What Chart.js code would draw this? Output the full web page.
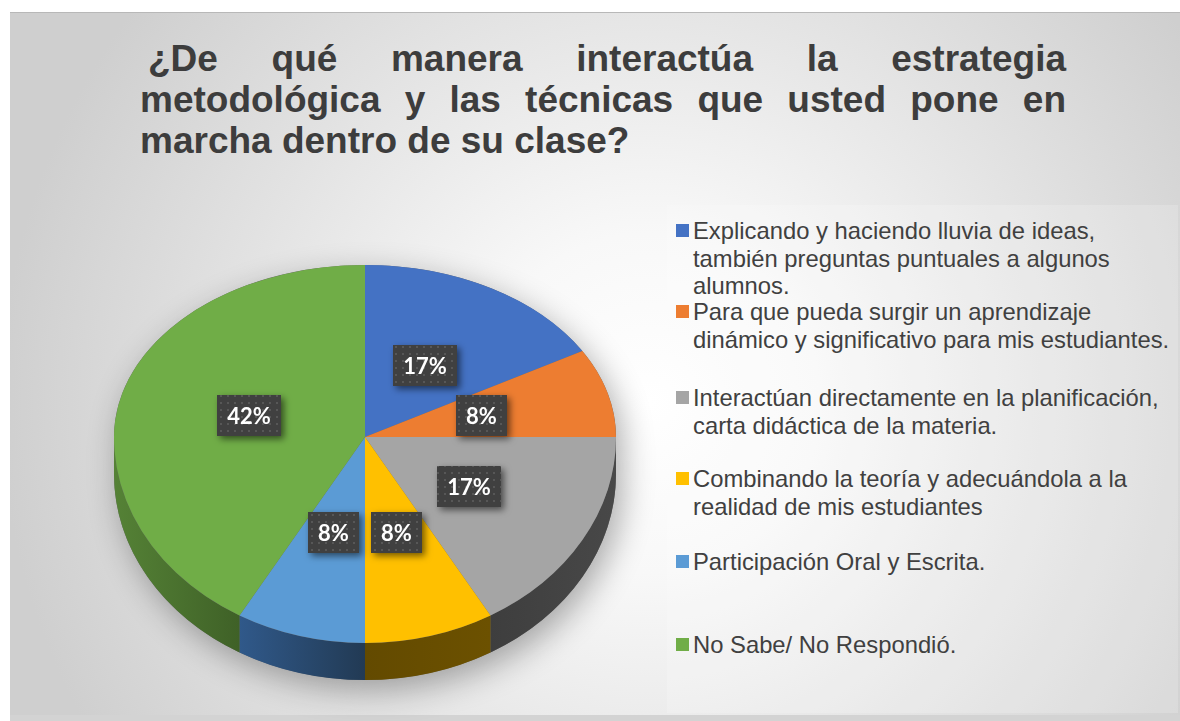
<!DOCTYPE html>
<html><head><meta charset="utf-8">
<script src="https://cdn.jsdelivr.net/npm/chart.js@4.4.0/dist/chart.umd.min.js"></script>
<style>
html,body{margin:0;padding:0;background:#fff;width:1180px;height:721px;overflow:hidden;position:relative;}
#frame{position:absolute;left:10px;top:12px;width:1170px;height:703px;border-top:1px solid #b8b8b8;box-sizing:border-box;
 background:radial-gradient(circle at 640px 390px,#ffffff 0px,#f8f8f8 170px,#cfcfcf 650px);}
#band{position:absolute;left:10px;top:715px;width:1170px;height:6px;background:#d3d3d3;}
#legbox{position:absolute;left:667px;top:205px;width:511px;height:508px;background:rgba(255,255,255,0.18);}
canvas{position:absolute;left:0;top:0;}
.tl{position:absolute;font:bold 37px "Liberation Sans",Arial,sans-serif;color:#3d3d3d;line-height:41px;text-align:justify;text-align-last:justify;}
.li{position:absolute;left:676px;font:23.8px "Liberation Sans",Arial,sans-serif;color:#404040;line-height:27.5px;}
.mk{position:absolute;left:0;width:13px;height:13px;}
.tx{position:absolute;left:17px;white-space:nowrap;}
</style></head>
<body>
<div id="frame"></div>
<div id="band"></div>
<div id="legbox"></div>
<div class="tl" style="left:148px;top:38px;width:918px;">¿De qué manera interactúa la estrategia</div>
<div class="tl" style="left:140px;top:79px;width:926px;">metodológica y las técnicas que usted pone en</div>
<div class="tl" style="left:140px;top:120px;text-align:left;text-align-last:left;white-space:nowrap;">marcha dentro de su clase?</div>
<div id="legend"></div>
<canvas id="c" width="1180" height="721"></canvas>
<script>
// ---- data ----
const categories = [
  ["Explicando y haciendo lluvia de ideas,", "también preguntas puntuales a algunos", "alumnos."],
  ["Para que pueda surgir un aprendizaje", "dinámico y significativo para mis estudiantes."],
  ["Interactúan directamente en la planificación,", "carta didáctica de la materia."],
  ["Combinando la teoría y adecuándola a la", "realidad de mis estudiantes"],
  ["Participación Oral y Escrita."],
  ["No Sabe/ No Respondió."]
];
const values = [2, 1, 2, 1, 1, 5];
const colors = ['#4472C4', '#ED7D31', '#A5A5A5', '#FFC000', '#5B9BD5', '#70AD47'];
const sideColors = [['#2c4c85', '#2c4c85'], ['#9b4d17', '#9b4d17'], ['#484848', '#3e3e3e'],
                    ['#6c5100', '#634a00'], ['#223a54', '#30598a'], ['#3f6127', '#558236']];
const legendBaselines = [239, 320, 406, 487, 570, 653];

// ---- legend (HTML) ----
const BASE = 21.9;
const leg = document.getElementById('legend');
categories.forEach((lines, i) => {
  const d = document.createElement('div');
  d.className = 'li';
  d.style.top = (legendBaselines[i] - BASE) + 'px';
  const mk = document.createElement('div');
  mk.className = 'mk';
  mk.style.background = colors[i];
  mk.style.top = (BASE - 15) + 'px';
  const tx = document.createElement('div');
  tx.className = 'tx';
  tx.innerHTML = lines.join('<br>');
  d.appendChild(mk); d.appendChild(tx);
  leg.appendChild(d);
});

const total = values.reduce((a, b) => a + b, 0);
const pctLabels = values.map(v => Math.round(v / total * 100) + '%');

// ---- 3D look ----
const KT = 172 / 251, KB = 206 / 251, DEPTH = 37, LABEL_F = 0.48;
function mapPt(cx, cy, r, ang, f) {
  const s = Math.sin(ang);
  return { x: cx + Math.cos(ang) * r * f, y: cy + s * r * f * (s < 0 ? KT : KB) };
}
function makePattern(ctx) {
  const pc = document.createElement('canvas');
  pc.width = 7; pc.height = 7;
  const p = pc.getContext('2d');
  p.fillStyle = '#404040'; p.fillRect(0, 0, 7, 7);
  p.fillStyle = '#575757'; p.fillRect(3, 3, 2, 2);
  return ctx.createPattern(pc, 'repeat');
}

const pie3d = {
  id: 'pie3d',
  beforeDatasetsDraw(chart) {
    const ctx = chart.ctx, arcs = chart.getDatasetMeta(0).data;
    const cx = arcs[0].x, cy = arcs[0].y, r = arcs[0].outerRadius;
    const rt = r * KT, rb = r * KB;
    // soft shadow
    ctx.save();
    ctx.shadowColor = 'rgba(0,0,0,0.32)'; ctx.shadowBlur = 32;
    ctx.shadowOffsetX = 6; ctx.shadowOffsetY = 10;
    ctx.beginPath();
    ctx.ellipse(cx, cy, r, rt, 0, Math.PI, 2 * Math.PI);
    ctx.lineTo(cx + r, cy + DEPTH);
    ctx.ellipse(cx, cy + DEPTH, r, rb, 0, 0, Math.PI);
    ctx.closePath();
    ctx.fillStyle = '#666'; ctx.fill();
    ctx.restore();
    // sides
    arcs.forEach((arc, i) => {
      const s = Math.max(arc.startAngle, 0), e = Math.min(arc.endAngle, Math.PI);
      if (e <= s) return;
      const x0 = cx + Math.cos(s) * r, x1 = cx + Math.cos(e) * r;
      const g = ctx.createLinearGradient(x0, 0, x1 === x0 ? x0 + 1 : x1, 0);
      g.addColorStop(0, sideColors[i][0]); g.addColorStop(1, sideColors[i][1]);
      ctx.beginPath();
      ctx.ellipse(cx, cy, r, rb, 0, s, e);
      ctx.ellipse(cx, cy + DEPTH, r, rb, 0, e, s, true);
      ctx.closePath();
      ctx.fillStyle = g; ctx.fill();
    });
    // top face in two halves (perspective-like)
    [[0, cy, KT], [cy, chart.height - cy, KB]].forEach(([y0, h, k]) => {
      ctx.save();
      ctx.beginPath(); ctx.rect(0, y0, chart.width, h); ctx.clip();
      ctx.translate(cx, cy); ctx.scale(1, k); ctx.translate(-cx, -cy);
      arcs.forEach(a => a.draw(ctx));
      ctx.restore();
    });
    return false;
  },
  afterDraw(chart) {
    const ctx = chart.ctx, arcs = chart.getDatasetMeta(0).data;
    const cx = arcs[0].x, cy = arcs[0].y, r = arcs[0].outerRadius;
    const pat = makePattern(ctx);
    ctx.save();
    ctx.font = 'bold 22px Lato, "Open Sans", sans-serif';
    arcs.forEach((arc, i) => {
      const m = (arc.startAngle + arc.endAngle) / 2;
      const p = mapPt(cx, cy, r, m, LABEL_F);
      const txt = pctLabels[i];
      const w = Math.round(ctx.measureText(txt).width + 20), h = 41;
      const bx = Math.round(p.x - w / 2), by = Math.round(p.y - h / 2);
      ctx.save();
      ctx.shadowColor = 'rgba(0,0,0,0.55)'; ctx.shadowBlur = 7;
      ctx.shadowOffsetX = 3; ctx.shadowOffsetY = 3;
      ctx.fillStyle = pat; ctx.fillRect(bx, by, w, h);
      ctx.restore();
      ctx.fillStyle = '#ffffff'; ctx.textAlign = 'center'; ctx.textBaseline = 'middle';
      ctx.fillText(txt, bx + w / 2, by + h / 2 + 1);
    });
    ctx.restore();
  }
};

function init() {
  new Chart(document.getElementById('c'), {
    type: 'pie',
    data: {
      labels: categories,
      datasets: [{ data: values, backgroundColor: colors, borderWidth: 0 }]
    },
    options: {
      responsive: false,
      animation: false,
      events: [],
      layout: { padding: { left: 114, right: 564, top: 186, bottom: 33 } },
      plugins: { legend: { display: false }, tooltip: { enabled: false }, title: { display: false } }
    },
    plugins: [pie3d]
  });
}
if (document.fonts && document.fonts.load) {
  document.fonts.load('bold 22px Lato').then(init, init);
} else init();
</script>
</body></html>
